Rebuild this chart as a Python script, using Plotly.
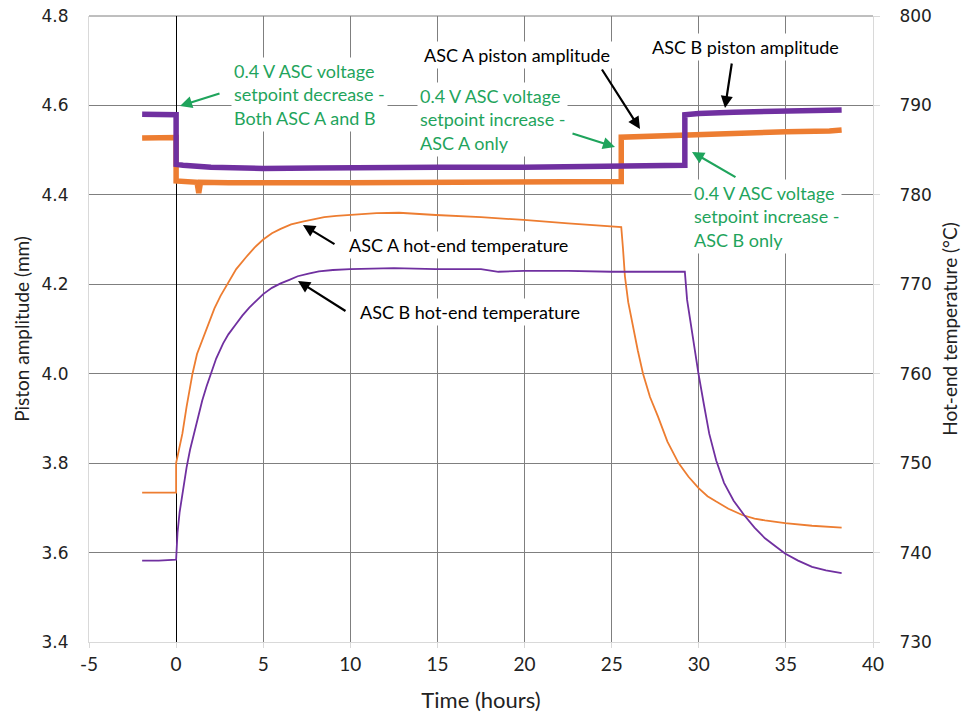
import plotly.graph_objects as go

# ---------------- data ----------------
# Piston amplitude (left axis, mm)
t_pa_A = [-1.95, -1.0, 0.0, 0.0, 0.5, 1.2, 1.3, 1.4, 3.0, 5.0, 8.0, 10.0, 15.0, 20.0, 25.55, 25.55, 27.0, 29.3, 32.0, 35.0, 37.5, 38.2]
pa_A = [4.527, 4.528, 4.528, 4.431, 4.429, 4.428, 4.404, 4.428, 4.427, 4.426, 4.427, 4.427, 4.428, 4.428, 4.430, 4.529, 4.531, 4.536, 4.539, 4.541, 4.543, 4.545]

t_pa_B = [-1.95, -1.0, 0.0, 0.0, 0.4, 2.0, 5.0, 8.0, 10.0, 15.0, 20.0, 25.0, 29.2, 29.2, 30.0, 32.0, 35.0, 38.2]
pa_B = [4.580, 4.580, 4.579, 4.468, 4.466, 4.462, 4.459, 4.460, 4.461, 4.462, 4.462, 4.463, 4.466, 4.579, 4.582, 4.585, 4.588, 4.590]

# Hot-end temperature (right axis, °C)
t_T_A = [-1.95, -1.0, 0.0, 0.0, 0.15, 0.36, 0.6, 0.94, 1.2, 1.51, 1.85, 2.2, 2.55, 2.94, 3.45, 4.0, 4.5, 5.0, 5.5,
         6.0, 6.6, 7.26, 7.9, 8.5, 9.2, 10.0, 11.5, 12.8, 14.0, 14.9, 17.5, 19.95, 22.5, 25.0, 25.55, 25.65, 25.76,
         25.95, 26.2, 26.5, 26.8, 27.2, 27.66, 28.2, 28.84, 29.4, 29.99, 30.5, 31.0, 31.7, 32.5, 33.2, 33.8, 34.95,
         36.5, 38.2]
T_A = [746.7, 746.7, 746.7, 750.0, 751.5, 753.3, 756.3, 760.0, 762.2, 763.8, 765.7, 767.3, 768.7, 770.0, 771.7,
       773.0, 774.1, 775.0, 775.7, 776.2, 776.7, 777.0, 777.3, 777.5, 777.65, 777.75, 777.95, 778.0, 777.9,
       777.75, 777.5, 777.2, 776.8, 776.45, 776.4, 774.0, 770.9, 768.0, 765.5, 762.6, 760.0, 757.4, 755.2,
       752.4, 750.0, 748.5, 747.2, 746.3, 745.7, 744.9, 744.2, 743.8, 743.6, 743.3, 743.0, 742.8]

t_T_B = [-1.95, -1.0, 0.0, 0.08, 0.2, 0.36, 0.6, 0.8, 1.03, 1.25, 1.5, 1.75, 1.99, 2.3, 2.7, 3.0, 3.42, 3.8, 4.2,
         4.6, 5.0, 5.5, 6.0, 6.5, 6.98, 7.6, 8.2, 9.0, 10.0, 12.5, 14.9, 17.5, 18.5, 19.95, 22.5, 25.0, 27.0, 29.2,
         29.33, 29.5, 29.65, 29.8, 29.98, 30.3, 30.6, 31.0, 31.45, 32.0, 32.6, 33.2, 33.8, 34.4, 34.95, 35.7, 36.5,
         37.3, 38.2]
T_B = [739.1, 739.1, 739.2, 742.2, 744.5, 746.6, 749.5, 751.5, 753.3, 755.2, 757.0, 758.6, 760.05, 761.7, 763.4,
       764.4, 765.5, 766.5, 767.4, 768.2, 768.9, 769.6, 770.1, 770.5, 770.9, 771.2, 771.45, 771.6, 771.7, 771.8,
       771.7, 771.7, 771.4, 771.5, 771.5, 771.4, 771.4, 771.4, 768.25, 766.0, 764.0, 762.0, 760.05, 756.5, 753.3,
       750.3, 747.8, 745.8, 744.2, 742.8, 741.6, 740.7, 739.9, 739.1, 738.4, 738.0, 737.7]

x_ticks = [-5, 0, 5, 10, 15, 20, 25, 30, 35, 40]
y_ticks = [3.4, 3.6, 3.8, 4.0, 4.2, 4.4, 4.6, 4.8]
y2_ticks = [730, 740, 750, 760, 770, 780, 790, 800]

ORANGE = "#ED7D31"
PURPLE = "#7030A0"
GREEN = "#1FA45C"
FONT = "Lato"
GRID = "#7F7F7F"

# ---------------- layout geometry ----------------
W, H = 961, 717
L, R, T, B = 89, 873, 16, 642
XR = (-5, 40)
YR = (3.4, 4.8)


def px2x(px):
    return XR[0] + (px - L) / (R - L) * (XR[1] - XR[0])


def py2y(py):
    return YR[1] - (py - T) / (B - T) * (YR[1] - YR[0])


fig = go.Figure()
fig.add_trace(go.Scatter(x=t_T_A, y=T_A, yaxis="y2", mode="lines", line=dict(color=ORANGE, width=1.8), showlegend=False))
fig.add_trace(go.Scatter(x=t_T_B, y=T_B, yaxis="y2", mode="lines", line=dict(color=PURPLE, width=1.8), showlegend=False))
fig.add_trace(go.Scatter(x=t_pa_A, y=pa_A, mode="lines", line=dict(color=ORANGE, width=5.5), showlegend=False))
fig.add_trace(go.Scatter(x=t_pa_B, y=pa_B, mode="lines", line=dict(color=PURPLE, width=5.5), showlegend=False))

annos = []
# text boxes: (text, px_x, px_y, xanchor, color)
texts = [
    ("0.4 V ASC voltage<br>setpoint decrease -<br>Both ASC A and B", 231, 94, "left", GREEN),
    ("0.4 V ASC voltage<br>setpoint increase -<br>ASC A only", 417, 119, "left", GREEN),
    ("0.4 V ASC voltage<br>setpoint increase -<br>ASC B only", 691, 216, "left", GREEN),
    ("ASC A piston amplitude", 517, 55, "center", "black"),
    ("ASC B piston amplitude", 745, 47, "center", "black"),
    ("ASC A hot-end temperature", 346, 245, "left", "black"),
    ("ASC B hot-end temperature", 357, 312, "left", "black"),
]
for txt, px, py, xa, col in texts:
    annos.append(dict(text=txt, x=px2x(px), y=py2y(py), xref="x", yref="y", xanchor=xa, yanchor="middle",
                      align="left", showarrow=False, bgcolor="white", borderpad=2,
                      font=dict(family=FONT, size=18, color=col)))

# arrows: (tail px, head px, color)
arrows = [
    ((221, 93), (180, 106), GREEN),
    ((601, 68), (640, 129), "black"),
    ((732, 62), (725, 108), "black"),
    ((571, 133), (615, 147), GREEN),
    ((737, 178), (692, 152), GREEN),
    ((336, 245), (303, 225), "black"),
    ((347, 312), (298, 281), "black"),
]
for (tx, ty), (hx, hy), col in arrows:
    annos.append(dict(text="", x=px2x(hx), y=py2y(hy), ax=px2x(tx), ay=py2y(ty), xref="x", yref="y",
                      axref="x", ayref="y", showarrow=True, arrowhead=2, arrowsize=1.1, arrowwidth=2.2,
                      arrowcolor=col, standoff=0, startstandoff=0))

fig.update_layout(
    width=W, height=H,
    margin=dict(l=L, r=W - R, t=T, b=H - B, autoexpand=False),
    paper_bgcolor="white", plot_bgcolor="white",
    font=dict(family=FONT, color="#222222"),
    annotations=annos,
    xaxis=dict(range=list(XR), tickmode="array", tickvals=x_ticks, ticktext=[str(v) for v in x_ticks],
               automargin=False,
               showgrid=True, gridcolor=GRID, gridwidth=1,
               zeroline=True, zerolinecolor="#000000", zerolinewidth=1,
               showline=True, linecolor="#D9D9D9", linewidth=1, mirror=False,
               ticks="outside", ticklen=5, tickcolor="#D9D9D9",
               tickfont=dict(family=FONT, size=19, color="#222222"),
               title=dict(text="Time (hours)", font=dict(family=FONT, size=22, color="#222222"), standoff=18)),
    yaxis=dict(range=list(YR), tickmode="array", tickvals=y_ticks, ticktext=[f"{v:.1f}" for v in y_ticks],
               automargin=False,
               showgrid=True, gridcolor=GRID, gridwidth=1, zeroline=False,
               showline=True, linecolor="#D9D9D9", linewidth=1,
               ticks="", ticklabelstandoff=16,
               tickfont=dict(family="DejaVu Sans", size=17, color="#222222"),
               title=dict(text="Piston amplitude (mm)", font=dict(family=FONT, size=19, color="#222222"), standoff=6)),
    yaxis2=dict(range=[730, 800], tickmode="array", tickvals=y2_ticks, ticktext=[str(v) for v in y2_ticks],
                automargin=False,
                overlaying="y", side="right", showgrid=False, zeroline=False,
                showline=True, linecolor="#D9D9D9", linewidth=1,
                ticks="outside", ticklen=6, tickcolor="#D9D9D9", ticklabelstandoff=16,
                tickfont=dict(family="DejaVu Sans", size=17, color="#222222"),
                title=dict(text="Hot-end temperature (°C)", font=dict(family=FONT, size=19, color="#222222"), standoff=16)),
)

# top border gridline at 4.8
fig.add_shape(type="line", xref="paper", yref="paper", x0=0, x1=1, y0=1, y1=1, line=dict(color=GRID, width=1), layer="below")

fig.write_html("out.html")
